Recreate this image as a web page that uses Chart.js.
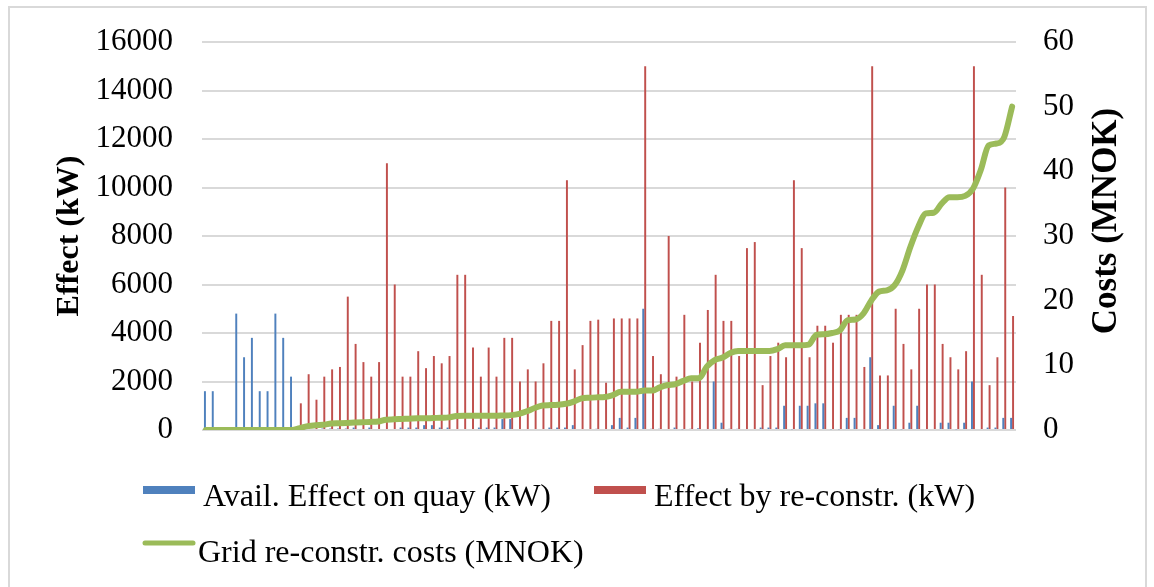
<!DOCTYPE html>
<html>
<head>
<meta charset="utf-8">
<script src="https://cdn.jsdelivr.net/npm/chart.js@4.4.1/dist/chart.umd.min.js"></script>
<style>
  html, body { margin: 0; padding: 0; background: #fff; }
  #wrap { position: relative; width: 1154px; height: 587px; }
</style>
</head>
<body>
<div id="wrap"><canvas id="chart" width="1154" height="587"></canvas></div>
<script>
// === DATA (one entry per quay, sorted by grid cost) ===
const availEffect = [
  1600, 1600, 0, 0, 4800, 3000, 3800, 1600, 1600, 4800, 3800, 2200,
  0, 0, 0, 60, 60,
  60, 60, 100, 0, 100, 0, 0, 0, 100, 100, 100, 200, 200, 100, 100, 0, 0,
  0, 100, 100, 100, 450, 450, 0, 0, 0, 0, 100, 100, 100, 200, 0, 0, 50,
  0, 200, 500, 100, 500, 5000, 50, 50, 0, 100, 30, 50, 70, 0, 2000, 300, 50, 50,
  0, 0, 100, 100, 100, 1000, 30, 1000, 1000, 1100, 1100, 30, 30, 500, 500, 0, 3000,
  200, 30, 1000, 30, 300, 1000, 0, 0, 300, 300, 30, 300, 2000, 0, 100, 100, 500, 500
];
const reconstrEffect = [
  0, 0, 0, 0, 0, 0, 0, 0, 0, 0, 0, 0,
  1100, 2300, 1250, 2200, 2500,
  2600, 5500, 3550, 2800, 2200, 2800, 11000, 6000, 2200, 2200, 3250, 2550, 3050, 2750, 3050, 6400, 6400,
  3400, 2200, 3400, 2200, 3800, 3800, 2000, 2500, 2000, 2750, 4500, 4500, 10300, 2500, 3500, 4500, 4550,
  1950, 4600, 4600, 4600, 4600, 15000, 3050, 2300, 8000, 2200, 4750, 2000, 3600, 4950, 6400, 4500, 4500, 3050,
  7500, 7750, 1850, 3050, 3600, 3000, 10300, 7500, 3000, 4300, 4300, 3600, 4750, 4750, 4750, 2600, 15000,
  2250, 2250, 5000, 3550, 2500, 5000, 6000, 6000, 3550, 3000, 2500, 3250, 15000, 6400, 1850, 3000, 10000, 4700
];
const gridCosts = [
  0, 0, 0, 0, 0, 0, 0, 0, 0, 0, 0, 0,
  0.3, 0.6, 0.75, 0.8, 1.0,
  1.05, 1.1, 1.15, 1.2, 1.25, 1.3, 1.6, 1.65, 1.7, 1.75, 1.8, 1.8, 1.85, 1.9, 1.95, 2.15, 2.2,
  2.2, 2.2, 2.2, 2.2, 2.25, 2.3, 2.5, 2.9, 3.4, 3.8, 3.85, 3.9, 4.05, 4.4, 4.9, 5.0, 5.05,
  5.1, 5.4, 5.9, 5.9, 5.9, 6.1, 6.1, 6.6, 6.95, 7.1, 7.6, 8.0, 8.0, 9.8, 10.8, 11.2, 11.9, 12.2,
  12.2, 12.2, 12.2, 12.2, 12.5, 13.1, 13.1, 13.1, 13.2, 14.7, 14.8, 15.0, 15.4, 17.0, 17.1, 18.0, 20.0,
  21.4, 21.6, 22.4, 24.7, 28.3, 31.4, 33.5, 33.6, 35, 36, 36, 36.2, 37.3, 40.2, 44, 44.3, 45.3, 50
];
const categories = availEffect.map((_, i) => String(i + 1));

const effectTicks = [0, 2000, 4000, 6000, 8000, 10000, 12000, 14000, 16000];
const costTicks = [0, 10, 20, 30, 40, 50, 60];

const leftTitle = 'Effect (kW)';
const rightTitle = 'Costs (MNOK)';
const seriesNames = ['Avail. Effect on quay (kW)', 'Effect by re-constr. (kW)', 'Grid re-constr. costs (MNOK)'];

const BLUE = '#4f81bd';
const RED = '#c0504d';
const GREEN = '#9bbb59';
const GRID = '#d9d9d9';
const SERIF = '"Liberation Serif", "Times New Roman", serif';

// legend spots: [marker x, text baseline y]
const legendSpots = [[143, 506], [594, 506], [143, 562]];

// === EXTRA DRAWING: frame, right title (reads upward), legend ===
const chartExtras = {
    id: 'chartExtras',
    beforeDraw(chart) {
        const ctx = chart.ctx;
        ctx.save();
        ctx.fillStyle = '#fff';
        ctx.fillRect(0, 0, chart.width, chart.height);
        ctx.strokeStyle = GRID;
        ctx.lineWidth = 2;
        ctx.strokeRect(9, 7, 1137, 600);
        ctx.restore();
    },
    afterDraw(chart) {
        const ctx = chart.ctx;

        // right axis title
        ctx.save();
        ctx.fillStyle = '#000';
        ctx.font = 'bold 35px ' + SERIF;
        ctx.translate(1107, 221);
        ctx.rotate(-Math.PI / 2);
        ctx.textAlign = 'center';
        ctx.textBaseline = 'middle';
        ctx.fillText(rightTitle, 0, 0);
        ctx.restore();

        // legend
        ctx.save();
        ctx.font = '32px ' + SERIF;
        ctx.textBaseline = 'alphabetic';
        ctx.textAlign = 'left';
        chart.data.datasets.forEach((ds, i) => {
            const [x, y] = legendSpots[i];
            if (ds.type === 'line') {
                ctx.strokeStyle = ds.borderColor;
                ctx.lineWidth = 5;
                ctx.lineCap = 'round';
                ctx.beginPath();
                ctx.moveTo(x + 2, y - 19);
                ctx.lineTo(x + 50, y - 19);
                ctx.stroke();
                ctx.fillStyle = '#000';
                ctx.fillText(ds.label, x + 55, y);
            } else {
                ctx.fillStyle = ds.backgroundColor;
                ctx.fillRect(x, y - 20, 52, 8);
                ctx.fillStyle = '#000';
                ctx.fillText(ds.label, x + 60, y);
            }
        });
        ctx.restore();
    }
};

const ctx = document.getElementById('chart').getContext('2d');
new Chart(ctx, {
    type: 'bar',
    data: {
        labels: categories,
        datasets: [
            {
                label: seriesNames[0],
                data: availEffect,
                backgroundColor: BLUE,
                yAxisID: 'y',
                order: 2,
                categoryPercentage: 0.5,
                barPercentage: 1.0
            },
            {
                label: seriesNames[1],
                data: reconstrEffect,
                backgroundColor: RED,
                yAxisID: 'y',
                order: 2,
                categoryPercentage: 0.5,
                barPercentage: 1.0
            },
            {
                type: 'line',
                label: seriesNames[2],
                data: gridCosts,
                borderColor: GREEN,
                backgroundColor: GREEN,
                borderWidth: 6,
                pointRadius: 0,
                cubicInterpolationMode: 'monotone',
                borderCapStyle: 'round',
                borderJoinStyle: 'round',
                yAxisID: 'y1',
                order: 1
            }
        ]
    },
    options: {
        responsive: false,
        animation: false,
        devicePixelRatio: 1,
        events: [],
        layout: { padding: { top: 42, bottom: 157, left: 0, right: 0 } },
        plugins: {
            legend: { display: false },
            tooltip: { enabled: false }
        },
        scales: {
            x: { display: false },
            y: {
                position: 'left',
                min: 0,
                max: 16000,
                afterBuildTicks: (scale) => { scale.ticks = effectTicks.map(v => ({ value: v })); },
                afterFit: (scale) => { scale.width = 202; },
                // invisible tick marks give the gap between labels and plot
                grid: { color: GRID, lineWidth: 2, drawTicks: true, tickLength: 29, tickColor: 'rgba(0,0,0,0)' },
                border: { display: false },
                ticks: { color: '#000', padding: 0, font: { family: SERIF, size: 31 }, callback: (v) => String(v) },
                title: {
                    display: true,
                    text: leftTitle,
                    color: '#000',
                    padding: { top: 51, bottom: 0 },
                    font: { family: SERIF, size: 32, weight: 'bold' }
                }
            },
            y1: {
                position: 'right',
                min: 0,
                max: 60,
                afterBuildTicks: (scale) => { scale.ticks = costTicks.map(v => ({ value: v })); },
                afterFit: (scale) => { scale.width = 138; },
                grid: { drawOnChartArea: false, drawTicks: true, tickLength: 27, color: 'rgba(0,0,0,0)', tickColor: 'rgba(0,0,0,0)' },
                border: { display: false },
                ticks: { color: '#000', padding: 0, font: { family: SERIF, size: 31 }, callback: (v) => String(v) }
            }
        }
    },
    plugins: [chartExtras]
});
</script>
</body>
</html>
